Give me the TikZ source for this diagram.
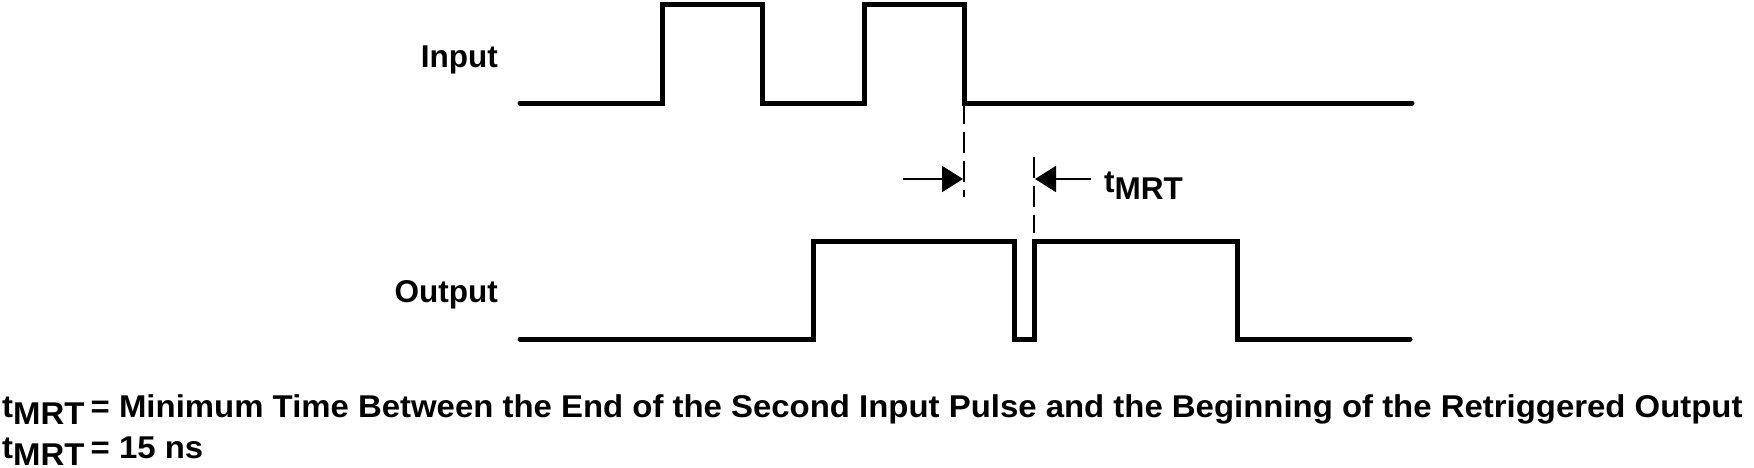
\documentclass[tikz,border=0pt]{standalone}
\usepackage{fontspec}
\setmainfont{Liberation Sans}
\usetikzlibrary{arrows.meta}
\newcommand\tmrtlbl{t\raisebox{-7pt}{MRT}}
\begin{document}
\begin{tikzpicture}[x=1pt,y=-1pt,
  wave/.style={line width=5pt,line cap=round,line join=miter},
  guide/.style={line width=2pt,dash pattern=on 21pt off 8pt},
  dimarrow/.style={line width=2pt,-{Triangle[length=21pt,width=26pt]}},
  lbl/.style={font=\fontsize{31.5}{38}\selectfont\bfseries,inner sep=0pt}]
\useasboundingbox (0,0) rectangle (1754,467);
% Input waveform
\draw[wave] (520,103) -- (662,103) -- (662,4) -- (762,4) -- (762,103) -- (864,103) -- (864,4) -- (964,4) -- (964,103) -- (1412,103);
% Output waveform
\draw[wave] (520,339) -- (813,339) -- (813,241) -- (1014,241) -- (1014,339) -- (1034,339) -- (1034,241) -- (1237,241) -- (1237,339) -- (1410,339);
% guides
\coordinate (g1t) at (964,103);
\coordinate (g1b) at (964,197);
\coordinate (g2t) at (1034,157);
\coordinate (g2b) at (1034,233);
\draw[guide] (g1t) -- (g1b);
\draw[guide] (g2t) -- (g2b);
% arrows
\coordinate (a1s) at (903,179);
\coordinate (a1e) at (963,179);
\coordinate (a2s) at (1091,179);
\coordinate (a2e) at (1035,179);
\draw[dimarrow] (a1s) -- (a1e);
\draw[dimarrow] (a2s) -- (a2e);
% labels
\node[lbl,anchor=base east] (inp) at (498,67) {Input};
\node[lbl,anchor=base east] (outp) at (498,302) {Output};
\node[lbl,anchor=base west] (tm) at (1104,192) {\tmrtlbl};
\node[lbl,anchor=base west] (def1) at (2,417) {\scalebox{1.045}[1]{\tmrtlbl\hspace{6pt}= Minimum Time Between the End of the Second Input Pulse and the Beginning of the Retriggered Output}};
\node[lbl,anchor=base west] (def2) at (2,458) {\scalebox{1.045}[1]{\tmrtlbl\hspace{6pt}= 15 ns}};
\end{tikzpicture}
\end{document}
